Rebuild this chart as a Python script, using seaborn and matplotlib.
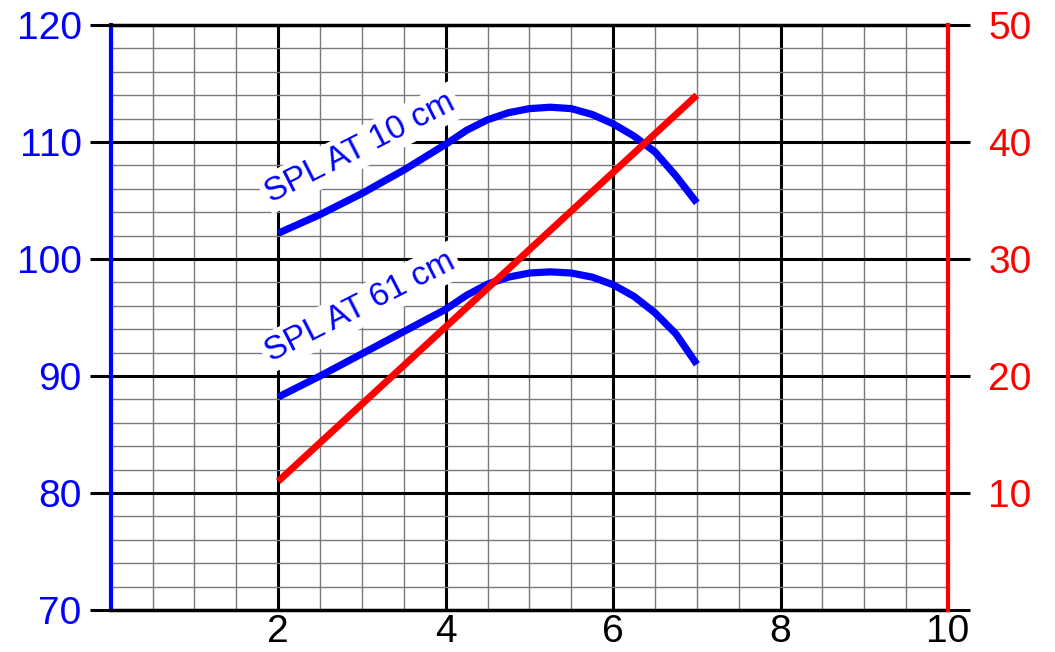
#!/usr/bin/env python3
# coding: utf-8
import numpy as np
import pandas as pd
import matplotlib
matplotlib.use("Agg")
import matplotlib.pyplot as plt
from matplotlib.ticker import MultipleLocator, FixedLocator
import seaborn as sns

# 曲线数据
x_spl = [2.0, 2.5, 3.0, 3.5, 4.0, 4.25, 4.5, 4.75, 5.0, 5.25, 5.5, 5.75,
         6.0, 6.25, 6.5, 6.75, 7.0]
spl_10cm = [102.2, 103.8, 105.6, 107.6, 109.8, 111.0, 111.9, 112.5, 112.85, 112.97,
            112.85, 112.35, 111.55, 110.5, 109.15, 107.1, 104.8]
spl_61cm = [88.2, 90.0, 91.9, 93.8, 95.7, 96.9, 97.85, 98.45, 98.8, 98.9,
            98.8, 98.45, 97.8, 96.8, 95.4, 93.6, 91.0]

x_red = [2.0, 7.0]
red_vals = [11.0, 44.0]

x_ticks = [0, 2, 4, 6, 8, 10]
x_labels = ["", "2", "4", "6", "8", "10"]
left_ticks = [70, 80, 90, 100, 110, 120]
right_ticks = [0, 10, 20, 30, 40, 50]
right_labels = ["", "10", "20", "30", "40", "50"]

curve_labels = ["SPL AT 10 cm", "SPL AT 61 cm"]

sns.set_style("white")
plt.rcParams["font.family"] = ["Liberation Sans", "DejaVu Sans"]

df = pd.DataFrame({"x": x_spl, "spl10": spl_10cm, "spl61": spl_61cm})
df_red = pd.DataFrame({"x": x_red, "v": red_vals})

fig = plt.figure(figsize=(10.55, 6.52), dpi=100)
ax = fig.add_axes([0.105, 0.0644, 0.7936, 0.8973])

# 网格
ax.set_xlim(0, 10)
ax.set_ylim(70, 120)
ax.xaxis.set_major_locator(FixedLocator(x_ticks))
ax.xaxis.set_minor_locator(MultipleLocator(0.5))
ax.yaxis.set_major_locator(FixedLocator(left_ticks))
ax.yaxis.set_minor_locator(MultipleLocator(2))
ax.set_axisbelow(True)
ax.grid(which="minor", color="#7a7a7a", lw=1.0)
ax.grid(which="major", color="black", lw=2.2)

sns.lineplot(data=df, x="x", y="spl10", ax=ax, color="#0000ff", lw=5.2,
             solid_capstyle="butt", zorder=4)
sns.lineplot(data=df, x="x", y="spl61", ax=ax, color="#0000ff", lw=5.2,
             solid_capstyle="butt", zorder=4)

label_pos = [(2.98, 109.5), (2.98, 95.9)]
for (lx, ly), txt in zip(label_pos, curve_labels):
    ax.text(lx, ly, txt, color="#0000ff", fontsize=24, rotation=27,
            ha="center", va="center", rotation_mode="anchor", zorder=3,
            bbox=dict(facecolor="white", edgecolor="none", pad=3))

ax.set_xticklabels(x_labels)
ax.set_yticklabels([str(t) for t in left_ticks])
ax.tick_params(axis="x", which="both", length=0, pad=3, labelsize=28, labelcolor="black")
ax.tick_params(axis="y", which="major", length=15, width=2.2, color="black",
               pad=6, labelsize=28, labelcolor="#0000ff")
ax.tick_params(axis="y", which="minor", length=0)
ax.set_xlabel("")
ax.set_ylabel("")

for side in ["top", "bottom"]:
    ax.spines[side].set_color("black")
    ax.spines[side].set_linewidth(2.5)
ax.spines["left"].set_color("#0000ff")
ax.spines["left"].set_linewidth(3)
ax.spines["right"].set_visible(False)

# 右轴
ax2 = ax.twinx()
ax2.set_ylim(0, 50)
sns.lineplot(data=df_red, x="x", y="v", ax=ax2, color="#ff0000", lw=5.0,
             solid_capstyle="butt")
ax2.yaxis.set_major_locator(FixedLocator(right_ticks))
ax2.set_yticklabels(right_labels)
ax2.tick_params(axis="y", which="major", length=16, width=2.2, color="black",
                pad=13, labelsize=28, labelcolor="#ff0000")
ax2.set_ylabel("")
ax2.set_xlabel("")
for side in ["top", "bottom", "left"]:
    ax2.spines[side].set_visible(False)
ax2.spines["right"].set_color("#ff0000")
ax2.spines["right"].set_linewidth(3)

fig.savefig("out.png", dpi=100)
